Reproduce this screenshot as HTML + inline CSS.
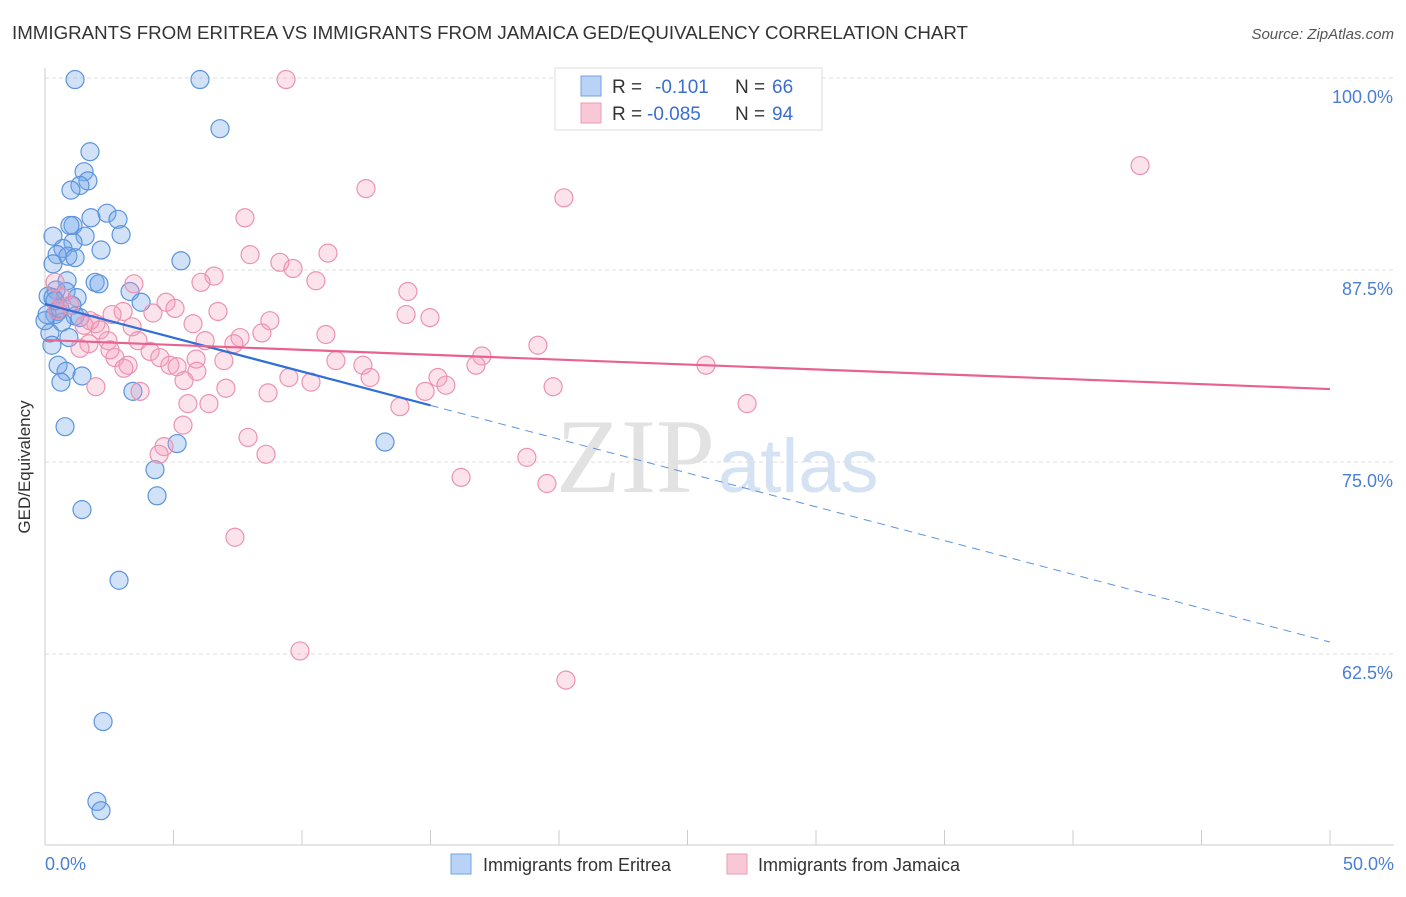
<!DOCTYPE html>
<html><head><meta charset="utf-8"><style>
body{margin:0;background:#fff;font-family:"Liberation Sans",sans-serif}
</style></head><body>
<svg width="1406" height="892" viewBox="0 0 1406 892">
<text x="12" y="39" font-size="18" fill="#333" textLength="956" lengthAdjust="spacingAndGlyphs">IMMIGRANTS FROM ERITREA VS IMMIGRANTS FROM JAMAICA GED/EQUIVALENCY CORRELATION CHART</text>
<text x="1394" y="39" font-size="15" fill="#555" font-style="italic" text-anchor="end">Source: ZipAtlas.com</text>
<g id="grid"></g>
<line x1="45" y1="68" x2="45" y2="845" stroke="#ccc"/>
<line x1="45" y1="845" x2="1394" y2="845" stroke="#ccc"/>
<text x="715" y="492" font-size="106" fill="#e2e2e2" text-anchor="end" font-family="Liberation Serif">ZIP</text>
<text x="718" y="492" font-size="76" fill="#d4e2f3">atlas</text>
<g id="ticks"></g>
<g id="pts"></g>
<g id="lines"></g>
<text x="18" y="455" font-size="17" fill="#333" transform="rotate(-90 30 455)" text-anchor="middle">GED/Equivalency</text>
<text x="45" y="870" font-size="18" fill="#4a7fd4">0.0%</text>
<text x="1394" y="870" font-size="18" fill="#4a7fd4" text-anchor="end">50.0%</text>
<g>
<rect x="555" y="68" width="267" height="62" fill="#fff" stroke="#ddd"/>
<rect x="581" y="76" width="20" height="20" fill="#b8d3f5" stroke="#6fa3e3"/>
<rect x="581" y="103" width="20" height="20" fill="#f9c8d7" stroke="#ec9bb5"/>
<text y="93" font-size="19" fill="#333"><tspan x="612">R =</tspan><tspan x="655" fill="#3a6fd0">-0.101</tspan><tspan x="735">N =</tspan><tspan x="772" fill="#3a6fd0">66</tspan></text>
<text y="120" font-size="19" fill="#333"><tspan x="612">R =</tspan><tspan x="647" fill="#3a6fd0">-0.085</tspan><tspan x="735">N =</tspan><tspan x="772" fill="#3a6fd0">94</tspan></text>
</g>
<g>
<rect x="451" y="854" width="20" height="20" fill="#b8d3f5" stroke="#6fa3e3"/>
<text x="483" y="871" font-size="18" fill="#333">Immigrants from Eritrea</text>
<rect x="727" y="854" width="20" height="20" fill="#f9c8d7" stroke="#ec9bb5"/>
<text x="758" y="871" font-size="18" fill="#333">Immigrants from Jamaica</text>
</g>
</svg>
<script>
const yTicks=[100,87.5,75,62.5];
const yTickLabels=["100.0%","87.5%","75.0%","62.5%"];
const xTicks=[0,5,10,15,20,25,30,35,40,45,50];
const eritreaX=[1.17,6.03,6.81,1.75,1.52,1.67,1.36,1.01,2.41,2.84,1.79,1.09,0.97,0.31,1.56,2.96,1.09,0.70,2.18,0.47,0.89,1.17,5.29,0.31,0.86,1.95,2.10,0.43,0.12,0.82,1.25,3.31,3.74,0.31,1.05,0.51,0.39,1.17,0.66,1.36,0.19,0.93,0.27,0.51,0.82,1.44,0.62,3.42,0.78,5.14,13.23,4.28,4.36,1.44,2.88,2.26,2.02,2.18,0.08,0.58,0.39,0.0];
const eritreaY=[99.9,99.9,96.7,95.2,93.9,93.3,93.0,92.7,91.2,90.8,90.9,90.4,90.4,89.7,89.7,89.8,89.3,88.9,88.8,88.5,88.4,88.3,88.1,87.9,86.8,86.7,86.6,86.2,85.8,86.1,85.7,86.1,85.4,85.7,85.2,84.8,84.6,84.5,84.1,84.4,83.4,83.1,82.6,81.3,80.9,80.6,80.2,79.6,77.3,76.2,76.3,74.5,72.8,71.9,67.3,58.1,52.9,52.3,84.6,85.0,85.5,84.2];
const jamaicaX=[9.38,42.61,12.49,20.19,7.78,11.01,7.98,9.14,9.65,6.58,10.54,6.07,14.12,3.46,0.39,0.66,4.71,5.06,6.73,14.05,14.98,4.20,3.04,2.61,8.75,5.76,1.98,1.52,2.14,3.39,10.93,8.44,7.59,7.35,6.23,19.18,17.00,2.45,3.62,1.71,4.09,1.36,2.72,6.96,4.47,5.88,4.86,5.14,11.32,12.37,16.77,25.72,3.23,3.07,5.91,9.49,12.65,15.29,10.35,5.41,15.60,19.77,1.98,7.04,14.79,8.68,3.70,5.56,6.38,27.32,13.81,5.37,7.90,4.63,4.44,8.60,18.75,16.19,19.53,7.39,9.92,20.27,0.97,1.75,0.47,2.53];
const jamaicaY=[99.9,94.3,92.8,92.2,90.9,88.6,88.5,88.0,87.6,87.1,86.8,86.7,86.1,86.6,86.7,85.7,85.4,85.0,84.8,84.6,84.4,84.7,84.8,84.6,84.2,84.0,84.0,83.9,83.6,83.8,83.3,83.4,83.1,82.7,82.9,82.6,81.9,82.9,82.9,82.7,82.2,82.4,81.8,81.6,81.8,81.7,81.3,81.2,81.6,81.3,81.3,81.3,81.3,81.1,80.9,80.5,80.5,80.5,80.2,80.3,80.0,79.9,79.9,79.8,79.6,79.5,79.6,78.8,78.8,78.8,78.6,77.4,76.6,76.0,75.5,75.5,75.3,74.0,73.6,70.1,62.7,60.8,85.2,84.2,84.9,82.3];
const eritreaTrend=[85.29,63.28];
const jamaicaTrend=[82.94,79.75];
const NS="http://www.w3.org/2000/svg";
const sx=v=>45+v*25.7, sy=v=>78+(100-v)*15.36;
function mk(t,a,p){const e=document.createElementNS(NS,t);for(const k in a)e.setAttribute(k,a[k]);document.getElementById(p).appendChild(e);return e;}
yTicks.forEach((v,i)=>{
 const l=mk('line',{x1:45,x2:1394,y1:sy(v),y2:sy(v),stroke:'#ddd','stroke-dasharray':'4,3'},'grid');
 
 
 const t=mk('text',{x:1393,y:sy(v)+25,'font-size':18,fill:'#4a7fd4','text-anchor':'end'},'grid');
 t.textContent=yTickLabels[i];
 
 
});
xTicks.forEach(v=>{
 const l=mk('line',{x1:sx(v),x2:sx(v),y1:830,y2:845,stroke:'#ccc'},'ticks');
 
 
});
eritreaX.forEach((x,i)=>{
 const c=mk('circle',{cx:sx(x),cy:sy(eritreaY[i]),r:9,fill:'rgba(120,170,235,0.35)',stroke:'#5b94dc','stroke-width':1.2},'pts');
 
 
});
jamaicaX.forEach((x,i)=>{
 const c=mk('circle',{cx:sx(x),cy:sy(jamaicaY[i]),r:9,fill:'rgba(245,160,190,0.3)',stroke:'#eb93b0','stroke-width':1.2},'pts');
 
 
});
const bAt=x=>eritreaTrend[0]+(eritreaTrend[1]-eritreaTrend[0])*x/50;
let l1=mk('line',{x1:sx(0),y1:sy(bAt(0)),x2:sx(15),y2:sy(bAt(15)),stroke:'#2f6fd6','stroke-width':2.2},'lines');


let l2=mk('line',{x1:sx(15),y1:sy(bAt(15)),x2:sx(50),y2:sy(bAt(50)),stroke:'#5b94dc','stroke-width':1,'stroke-dasharray':'8,6'},'lines');


let l3=mk('line',{x1:sx(0),y1:sy(jamaicaTrend[0]),x2:sx(50),y2:sy(jamaicaTrend[1]),stroke:'#e8628e','stroke-width':2.2},'lines');


</script>
</body></html>
